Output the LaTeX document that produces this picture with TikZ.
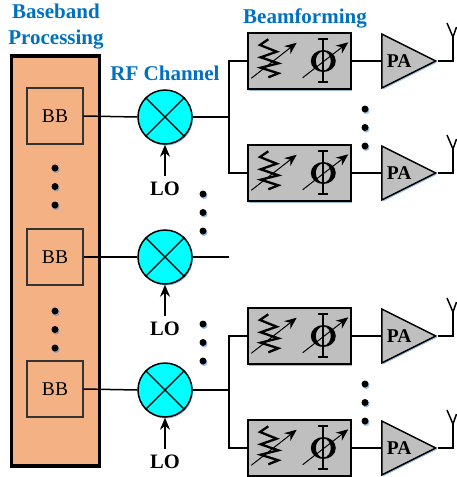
\documentclass[tikz,border=0pt]{standalone}
\usepackage{fontspec}
\setmainfont{Liberation Serif}
\usetikzlibrary{arrows.meta,shapes.geometric,shadows}
\definecolor{titleblue}{RGB}{0,112,192}
\definecolor{bbfill}{RGB}{244,177,131}
\definecolor{beamgray}{RGB}{191,191,191}
\definecolor{mixcyan}{RGB}{0,255,255}
\definecolor{shadeblue}{RGB}{70,130,200}
\tikzset{
	softshade/.style={drop shadow={shadow xshift=1pt,shadow yshift=-1.5pt,fill=shadeblue,opacity=0.55}},
	heading/.style={font=\fontsize{21}{26}\selectfont\bfseries,text=titleblue,align=center,inner sep=0},
	outerbox/.style={draw,line width=3.2pt,fill=bbfill,minimum width=88pt,minimum height=410pt,inner sep=0,softshade},
	bbbox/.style={draw=black!80,line width=1.2pt,minimum size=56pt,inner sep=0,font=\fontsize{19.5}{19.5}\selectfont},
	mixer/.style={draw,circle,line width=1.5pt,fill=mixcyan,minimum size=54pt,inner sep=0,softshade},
	beambox/.style={draw,line width=1.5pt,fill=beamgray,minimum width=103pt,minimum height=56pt,inner sep=0,softshade},
	pabox/.style={draw,line width=1.5pt,fill=beamgray,isosceles triangle,isosceles triangle stretches,minimum width=54pt,minimum height=54pt,inner sep=0,anchor=lower side,font=\fontsize{19.5}{19.5}\selectfont\bfseries,softshade},
	lotext/.style={font=\fontsize{20.5}{20.5}\selectfont\bfseries,inner sep=0},
	vdot/.style={circle,fill=black,minimum size=7pt,inner sep=0,softshade},
	wire/.style={line width=1.5pt},
	feed/.style={line width=1.6pt,-{Stealth[length=12pt,width=10pt]}},
	beamicons/.pic={
		\draw[line width=2.3pt] (-31.2,-21.7) -- (-39.5,-16) -- (-22.8,-9.3) -- (-38.8,-3.7) -- (-21.2,2.3) -- (-38.8,6.7) -- (-21.2,12.3) -- (-31.2,16.3);
		\draw[line width=1pt,-{Stealth[length=12pt,width=10pt]}] (-48.2,17.3) -- (-2.8,-18.3);
		\fill[even odd rule] (23.8,0) ellipse (12.5 and 11) (23.8,0) ellipse (7.5 and 9.5);
		\draw[line width=2pt] (18.8,-22) -- (28.8,-22) (23.8,-22) -- (23.8,20.7) (18.8,20.7) -- (28.8,20.7);
		\draw[line width=1pt,-{Stealth[length=12pt,width=10pt]}] (3.2,16.7) -- (48.8,-18.7);
	}
}
\begin{document}
\begin{tikzpicture}[x=1pt,y=-1pt]
	\useasboundingbox (0,0) rectangle (457,477);
	% titles
	\node[heading] (bbtitle) at (56,27) {Baseband\\Processing};
	\node[heading] (rftitle) at (165,73) {RF Channel};
	\node[heading] (beamtitle) at (305,18) {Beamforming};
	\node[outerbox] (outer) at (55.5,261) {};
	% one chain of BB, mixer and LO per row
	\foreach \i/\y/\m in {1/116/117,2/257/257,3/389/390} {
		\node[bbbox] (bb\i) at (55,\y) {BB};
		\node[mixer] (mix\i) at (165,\m) {};
		\draw[line width=1.1pt] (mix\i.45) -- (mix\i.225);
		\draw[line width=1.1pt] (mix\i.135) -- (mix\i.315);
		\draw[wire] (bb\i.east) -- (mix\i.west);
		\node[lotext] (lo\i) at (165,\m+72) {LO};
		\coordinate (lofoot\i) at (165,\m+59);
		\draw[feed] (lofoot\i) -- (mix\i.south);
		\coordinate (split\i) at (229,\m);
		\draw[wire] (mix\i.east) -- (split\i);
	}
	% beamforming and PA rows
	\foreach \i/\y in {1/61,2/173,3/336,4/448} {
		\node[beambox] (beam\i) at (299.5,\y) {};
		\pic at (beam\i.center) {beamicons};
		\node[pabox] (pa\i) at (381,\y) {PA};
		\draw[wire] (beam\i.east) -- (pa\i.lower side);
		\coordinate (ant\i) at (453,\y-24);
		\draw[wire] (pa\i.apex) -| (ant\i);
		\draw[wire] (ant\i) -- +(-6,-14);
		\draw[wire] (ant\i) -- +(3.5,-10);
	}
	\draw[wire] (beam1.west) -| (split1) |- (beam2.west);
	\draw[wire] (beam3.west) -| (split3) |- (beam4.west);
	% dots
	\foreach \j/\x/\y in {1/55/168,2/55/311,3/203/194,4/203/324,5/365/109,6/365/384} {
		\node[vdot] (dots\j a) at (\x,\y) {};
		\node[vdot] (dots\j b) at (\x,\y+18.5) {};
		\node[vdot] (dots\j c) at (\x,\y+37) {};
	}
\end{tikzpicture}
\end{document}
